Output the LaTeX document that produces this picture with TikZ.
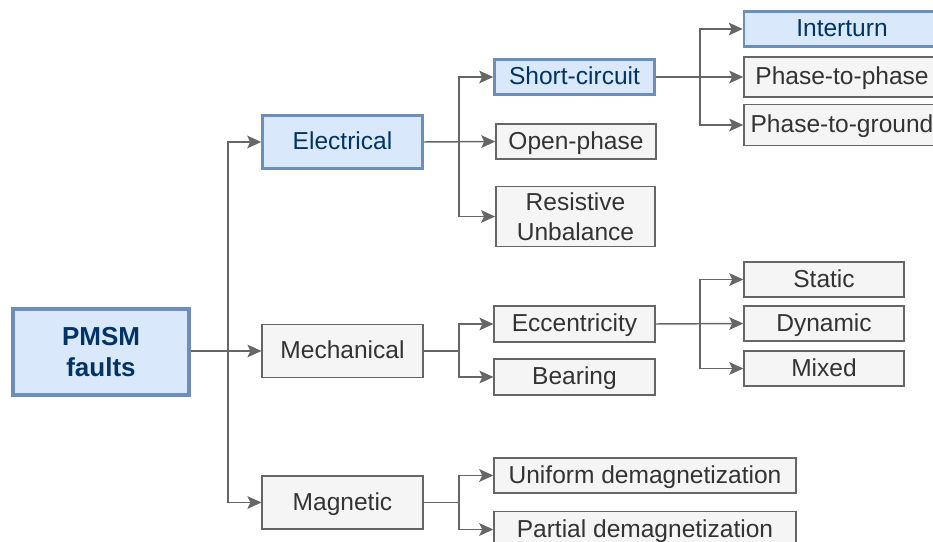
\documentclass[tikz,border=0pt]{standalone}
\usepackage{fontspec}
\setmainfont{Liberation Sans}
\usetikzlibrary{arrows.meta}
\definecolor{bluefill}{HTML}{DAE8FC}
\definecolor{blueline}{HTML}{6C8EBF}
\definecolor{bluetext}{HTML}{003366}
\definecolor{grayfill}{HTML}{F5F5F5}
\definecolor{grayline}{HTML}{666666}
\definecolor{graytext}{HTML}{333333}
\tikzset{
  box/.style={rectangle, inner sep=0pt, align=center,
    font=\fontsize{18.4}{22.5}\selectfont},
  oneline/.style={text height=15.6pt, text depth=3.7pt},
  gbox/.style={box, draw=grayline, fill=grayfill, text=graytext, line width=1.1pt},
  bbox/.style={box, draw=blueline, fill=bluefill, text=bluetext, line width=1.9pt},
  rootbox/.style={box, draw=blueline, fill=bluefill, text=bluetext, line width=3pt,
    font=\fontsize{19.5}{23.5}\selectfont\bfseries},
  conn/.style={draw=grayline, line width=1.1pt,
    -{Stealth[length=10.5pt, width=9.5pt, inset=2.2pt]}},
  link/.style={draw=grayline, line width=1.1pt},
}
\begin{document}
\begin{tikzpicture}[x=0.75pt, y=-0.75pt]
\useasboundingbox (0,0) rectangle (933,542);
\begin{scope}
\clip (0,0) rectangle (933,542);

% root
\node[rootbox, minimum width=132pt, minimum height=64.5pt] (pmsm) at (101,352) {PMSM\\faults};

% first level
\node[bbox, oneline, minimum width=120pt, minimum height=39.5pt] (elec) at (342.5,142) {Electrical};
\node[gbox, oneline, minimum width=120.5pt, minimum height=40pt] (mech) at (342.5,351) {Mechanical};
\node[gbox, oneline, minimum width=120.5pt, minimum height=40pt] (mag) at (342.5,502.5) {Magnetic};

% electrical faults
\node[bbox, oneline, minimum width=120pt, minimum height=26.5pt] (sc) at (574.5,77) {Short-circuit};
\node[gbox, oneline, minimum width=120pt, minimum height=26.25pt] (op) at (576,141.5) {Open-phase};
\node[gbox, minimum width=119.5pt, minimum height=45pt] (ru) at (575.5,216.5) {Resistive\\Unbalance};

% short-circuit types
\node[bbox, oneline, minimum width=147pt, minimum height=26.5pt] (it) at (842,29) {Interturn};
\node[gbox, oneline, minimum width=147pt, minimum height=30pt] (pp) at (842,77) {Phase-to-phase};
\node[gbox, oneline, minimum width=147pt, minimum height=31pt] (pg) at (842,125) {Phase-to-ground};

% mechanical faults
\node[gbox, oneline, minimum width=120.5pt, minimum height=27pt] (ecc) at (574.5,324) {Eccentricity};
\node[gbox, oneline, minimum width=120.5pt, minimum height=27pt] (bear) at (574.5,377) {Bearing};

% eccentricity types
\node[gbox, oneline, minimum width=120pt, minimum height=26.25pt] (stat) at (824,279.5) {Static};
\node[gbox, oneline, minimum width=120pt, minimum height=26.25pt] (dyn) at (824,323.5) {Dynamic};
\node[gbox, oneline, minimum width=120pt, minimum height=26.25pt] (mix) at (824,368.5) {Mixed};

% magnetic faults
\node[gbox, oneline, minimum width=226.5pt, minimum height=26.5pt] (unif) at (645,475.5) {Uniform demagnetization};
\node[gbox, oneline, minimum width=226.5pt, minimum height=27pt] (part) at (645,529.5) {Partial demagnetization};

% junction points
\coordinate (j0) at (228,351);
\coordinate (j1) at (459,142);
\coordinate (j2) at (700,77);
\coordinate (j3) at (459,351);
\coordinate (j4) at (700,324);
\coordinate (j5) at (459,502.5);

% connectors
\draw[conn] (pmsm.east |- j0) -- (mech.west);
\draw[conn] (j0) |- (elec.west);
\draw[conn] (j0) |- (mag.west);

\draw[conn] (elec.east) -- (op.west);
\draw[conn] (j1) |- (sc.west);
\draw[conn] (j1) |- (ru.west);

\draw[conn] (sc.east) -- (pp.west);
\draw[conn] (j2) |- (it.west);
\draw[conn] (j2) |- (pg.west);

\draw[link] (mech.east) -- (j3);
\draw[conn] (j3) |- (ecc.west);
\draw[conn] (j3) |- (bear.west);

\draw[conn] (ecc.east) -- (dyn.west);
\draw[conn] (j4) |- (stat.west);
\draw[conn] (j4) |- (mix.west);

\draw[link] (mag.east) -- (j5);
\draw[conn] (j5) |- (unif.west);
\draw[conn] (j5) |- (part.west);
\end{scope}
\end{tikzpicture}
\end{document}
